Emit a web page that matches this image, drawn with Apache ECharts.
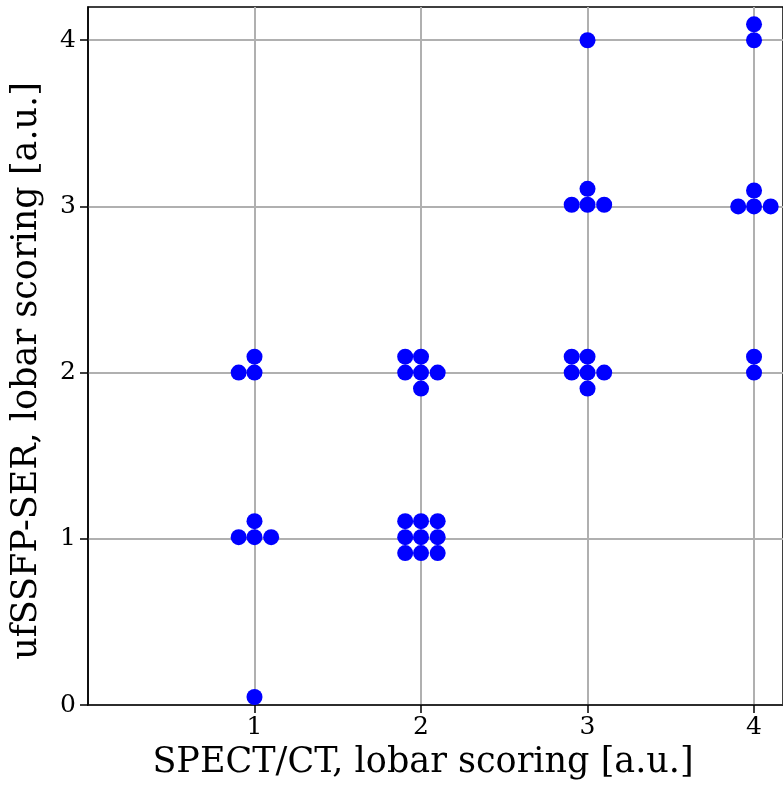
<!DOCTYPE html>
<html>
<head>
<meta charset="utf-8">
<script src="https://cdn.jsdelivr.net/npm/echarts@6/dist/echarts.min.js"></script>
<style>html,body{margin:0;padding:0;background:#fff;}#c{width:783px;height:785px;}</style>
</head>
<body>
<div id="c"></div>
<script>
// SPECT/CT score (with swarm offset) and ufSSFP-SER score (with swarm offset)
const spectScores = [
  0.905, 1.0, 1.0,
  0.905, 1.0, 1.1, 1.0,
  1.0,
  1.905, 2.0, 1.905, 2.0, 2.1, 2.0,
  1.905, 2.0, 2.1, 1.905, 2.0, 2.1, 1.905, 2.0, 2.1,
  3.0,
  3.0, 2.905, 3.0, 3.1,
  2.905, 3.0, 2.905, 3.0, 3.1, 3.0,
  4.0, 4.0,
  4.0, 3.905, 4.0, 4.1,
  4.0, 4.0
];
const ufssfpScores = [
  2.0, 2.0, 2.096,
  1.01, 1.01, 1.01, 1.106,
  0.048,
  2.096, 2.096, 2.0, 2.0, 2.0, 1.904,
  1.106, 1.106, 1.106, 1.01, 1.01, 1.01, 0.914, 0.914, 0.914,
  4.0,
  3.106, 3.01, 3.01, 3.01,
  2.096, 2.096, 2.0, 2.0, 2.0, 1.904,
  4.096, 4.0,
  3.096, 3.0, 3.0, 3.0,
  2.096, 2.0
];
const xTicks = [1, 2, 3, 4];
const yTicks = [0, 1, 2, 3, 4];

const points = spectScores.map((x, i) => [x, ufssfpScores[i]]);
const font = 'DejaVu Serif';
const chart = echarts.init(document.getElementById('c'));
chart.setOption({
  animation: false,
  grid: { left: 88, top: 7, right: -2, bottom: 80, show: true, borderColor: '#000', borderWidth: 1.5, backgroundColor: 'transparent' },
  xAxis: {
    type: 'value', min: 0, max: 4.174, interval: 1,
    name: 'SPECT/CT, lobar scoring [a.u.]', nameLocation: 'middle', nameGap: 40,
    nameTextStyle: { fontFamily: font, fontSize: 35, color: '#000', padding: [0, 25, 0, 0] },
    axisLine: { show: true, onZero: false, lineStyle: { color: '#000', width: 1.5 } },
    axisTick: { show: true, length: 8, lineStyle: { color: '#000', width: 1.5 }, customValues: xTicks },
    axisLabel: { fontFamily: font, fontSize: 25, color: '#000', margin: 10,
      customValues: xTicks, formatter: v => String(v) },
    splitLine: { show: true, lineStyle: { color: '#b0b0b0', width: 2 } }
  },
  yAxis: {
    type: 'value', min: 0, max: 4.2, interval: 1,
    name: 'ufSSFP-SER, lobar scoring [a.u.]', nameLocation: 'middle', nameGap: 44, nameRotate: 90,
    nameTextStyle: { fontFamily: font, fontSize: 35, color: '#000', padding: [0, 30, 0, 0] },
    axisLine: { show: true, onZero: false, lineStyle: { color: '#000', width: 1.5 } },
    axisTick: { show: true, length: 8, lineStyle: { color: '#000', width: 1.5 }, customValues: yTicks },
    axisLabel: { fontFamily: font, fontSize: 25, color: '#000', margin: 12, customValues: yTicks, formatter: v => String(v) },
    splitLine: { show: true, lineStyle: { color: '#b0b0b0', width: 2 } }
  },
  series: [{
    type: 'scatter', data: points, symbol: 'circle', symbolSize: 16,
    itemStyle: { color: '#0000ff', opacity: 1 }, clip: false
  }]
});
</script>
</body>
</html>
